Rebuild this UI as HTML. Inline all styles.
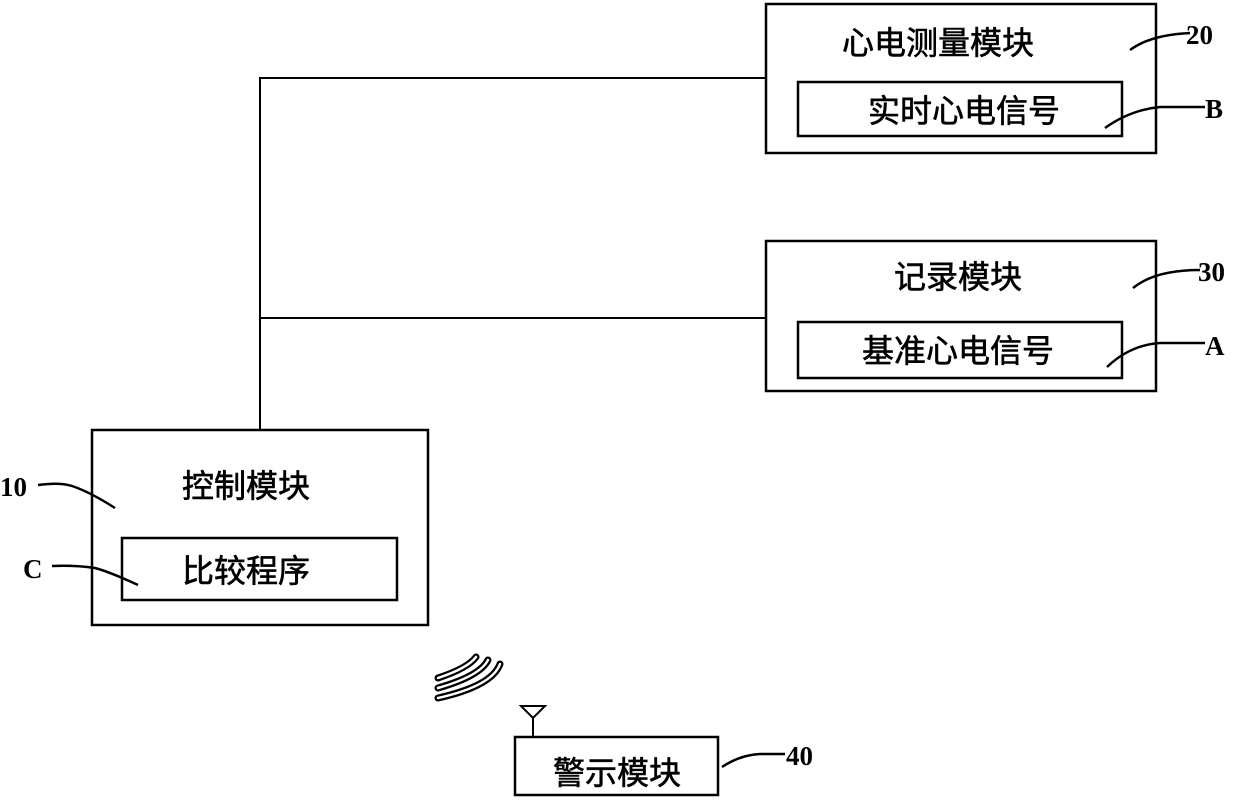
<!DOCTYPE html>
<html><head><meta charset="utf-8"><style>
body{margin:0;background:#fff;width:1240px;height:803px;overflow:hidden}
</style></head><body>
<svg width="1240" height="803" xmlns="http://www.w3.org/2000/svg" font-family="'Liberation Sans','Noto Sans CJK SC',sans-serif">
<g fill="none" stroke="#000" stroke-width="2.5">
<rect x="766" y="4" width="390" height="149"/>
<rect x="798" y="82" width="324" height="54"/>
<rect x="766" y="241" width="390" height="150"/>
<rect x="798" y="322" width="324" height="56"/>
<rect x="92" y="430" width="336" height="195"/>
<rect x="122" y="538" width="275" height="62"/>
<rect x="515" y="737" width="203" height="58"/>
<polyline points="766,78 260,78 260,430" stroke-width="2"/>
<line x1="260" y1="318" x2="766" y2="318" stroke-width="2"/>
<polygon points="521,706 545,706 533,718" stroke-width="2"/>
<line x1="533" y1="718" x2="533" y2="737" stroke-width="2"/>
<path d="M1130,50 Q1150,35 1190,33 M1105,128 Q1130,110 1160,107 L1205,107 M1107,367 Q1130,345 1160,343 L1205,343 M1133,288 Q1155,270 1200,270 M722,767 Q740,755 760,754 L785,754 M38,485 Q60,482 72,486 Q90,492 115,508 M52,566 Q75,565 95,568 Q110,572 138,585"/>
</g>
<g fill="none" stroke-linecap="round">
<g stroke="#000" stroke-width="7">
<path d="M438,678 Q468,668 476,657"/>
<path d="M438,688 Q480,676 488,660"/>
<path d="M438,698 Q492,686 500,664"/>
</g>
<g stroke="#fff" stroke-width="2.5">
<path d="M438,678 Q468,668 476,657"/>
<path d="M438,688 Q480,676 488,660"/>
<path d="M438,698 Q492,686 500,664"/>
</g>
</g>
<g font-size="32" text-anchor="middle" fill="#000" stroke="#000" stroke-width="0.6">
<text x="938" y="54">心电测量模块</text>
<text x="964" y="122">实时心电信号</text>
<text x="958" y="288">记录模块</text>
<text x="958" y="362">基准心电信号</text>
<text x="246" y="497">控制模块</text>
<text x="246" y="582">比较程序</text>
<text x="617" y="784">警示模块</text>
</g>
<g font-family="'Liberation Serif',serif" font-size="27" font-weight="bold" fill="#000">
<text x="1186" y="44">20</text>
<text x="1205" y="118">B</text>
<text x="1198" y="281">30</text>
<text x="1205" y="355">A</text>
<text x="0" y="496">10</text>
<text x="23" y="578">C</text>
<text x="786" y="765">40</text>
</g>
</svg>
</body></html>
